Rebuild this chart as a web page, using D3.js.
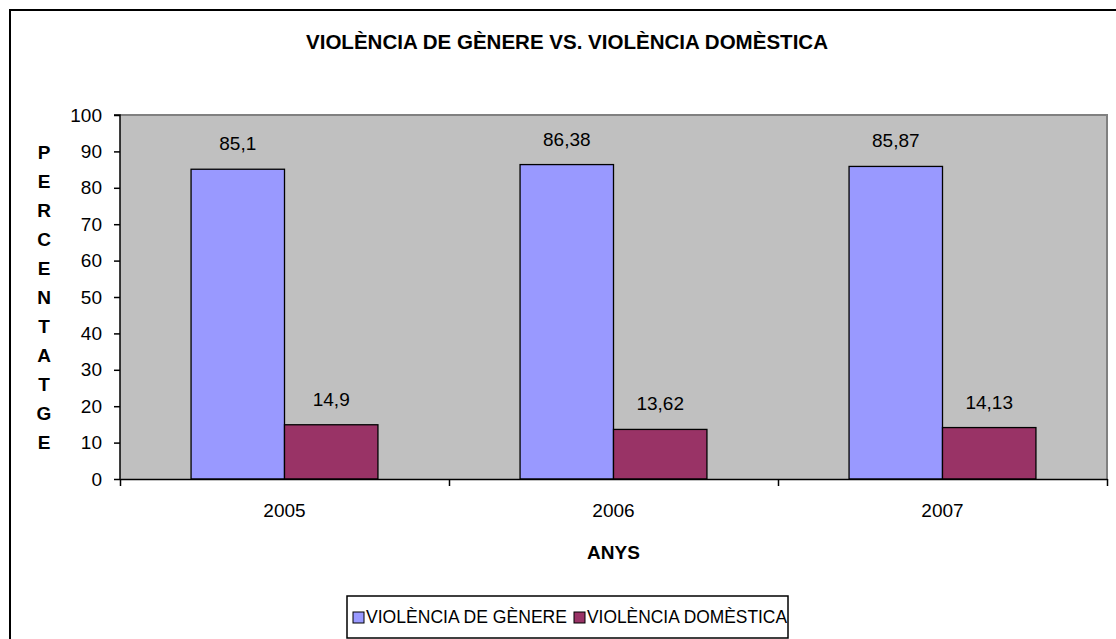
<!DOCTYPE html>
<html>
<head>
  <meta charset="utf-8">
  <title>Violència de gènere vs. violència domèstica</title>
  <style>
    body { margin: 0; background: #fff; }
    svg { display: block; font-family: "Liberation Sans", Arial, sans-serif; }
  </style>
</head>
<body>
  <svg id="chart" width="1116" height="639"></svg>

  <script src="https://cdn.jsdelivr.net/npm/d3@7/dist/d3.min.js"></script>
  <script>
    // Data
    const years = ['2005', '2006', '2007'];
    const seriesNames = ['VIOLÈNCIA DE GÈNERE', 'VIOLÈNCIA DOMÈSTICA'];
    const genere = [85.1, 86.38, 85.87];
    const domestica = [14.9, 13.62, 14.13];
    const yTicks = [0, 10, 20, 30, 40, 50, 60, 70, 80, 90, 100];
    const colors = ['#9999FF', '#993366'];

    const title = 'VIOLÈNCIA DE GÈNERE VS. VIOLÈNCIA DOMÈSTICA';
    const yLabel = 'PERCENTATGE';
    const xLabel = 'ANYS';

    const rows = years.map((y, i) => ({ year: y, values: [genere[i], domestica[i]] }));

    // Plot area
    const plot = { left: 120, right: 1107, top: 115, bottom: 479 };

    const svg = d3.select('#chart');

    // Outer chart border (runs off the right and bottom of the picture)
    svg.append('rect')
      .attr('x', 10).attr('y', 10)
      .attr('width', 1130).attr('height', 660)
      .attr('fill', '#fff')
      .attr('stroke', '#000')
      .attr('stroke-width', 2);

    // Scales
    const x0 = d3.scaleBand()
      .domain(years)
      .range([plot.left, plot.right])
      .paddingInner(0.432)
      .paddingOuter(0.216);

    const x1 = d3.scaleBand()
      .domain([0, 1])
      .range([0, x0.bandwidth()]);

    const y = d3.scaleLinear()
      .domain([0, 100])
      .range([plot.bottom, plot.top]);

    // Plot background
    svg.append('rect')
      .attr('x', plot.left).attr('y', plot.top)
      .attr('width', plot.right - plot.left)
      .attr('height', plot.bottom - plot.top)
      .attr('fill', '#C0C0C0');

    // Gray border on top and right of plot area
    svg.append('path')
      .attr('d', `M${plot.left},${plot.top}H${plot.right}V${plot.bottom}`)
      .attr('fill', 'none')
      .attr('stroke', '#808080')
      .attr('stroke-width', 2);

    // Bars
    const groups = svg.selectAll('.group')
      .data(rows)
      .enter()
      .append('g')
      .attr('class', 'group')
      .attr('transform', d => `translate(${x0(d.year)},0)`);

    groups.selectAll('rect')
      .data(d => d.values)
      .enter()
      .append('rect')
      .attr('x', (d, i) => x1(i))
      .attr('y', d => y(d))
      .attr('width', x1.bandwidth())
      .attr('height', d => y(0) - y(d))
      .attr('fill', (d, i) => colors[i])
      .attr('stroke', '#000')
      .attr('stroke-width', 1.3);

    // Value labels
    groups.selectAll('.val')
      .data(d => d.values)
      .enter()
      .append('text')
      .attr('class', 'val')
      .attr('x', (d, i) => x1(i) + x1.bandwidth() / 2)
      .attr('y', d => y(d) - 19)
      .attr('text-anchor', 'middle')
      .style('font-size', '19px')
      .style('fill', '#000')
      .text(d => String(d).replace('.', ','));

    // Y axis
    const yAxis = svg.append('g')
      .attr('transform', `translate(${plot.left},0)`)
      .call(d3.axisLeft(y).tickValues(yTicks).tickSize(6).tickPadding(12));
    yAxis.selectAll('text').style('font-size', '19px').style('fill', '#000').style('font-family', 'inherit');
    yAxis.selectAll('line, path').attr('stroke', '#000').attr('stroke-width', 1.5);
    yAxis.select('.domain').attr('d', `M-6,${plot.top}H0V${plot.bottom}`);

    // X axis: tick marks at category boundaries, labels at centres
    const xb = d3.scaleLinear().domain([0, years.length]).range([plot.left, plot.right]);
    const xTickAxis = svg.append('g')
      .attr('transform', `translate(0,${plot.bottom})`)
      .call(d3.axisBottom(xb).tickValues(d3.range(years.length + 1)).tickFormat('').tickSize(7).tickSizeOuter(0));
    xTickAxis.selectAll('line, path').attr('stroke', '#000').attr('stroke-width', 1.5);

    const xAxis = svg.append('g')
      .attr('transform', `translate(0,${plot.bottom})`)
      .call(d3.axisBottom(x0).tickSize(0).tickPadding(25));
    xAxis.select('.domain').remove();
    xAxis.selectAll('text').style('font-size', '19px').style('fill', '#000').style('font-family', 'inherit');

    // Title
    svg.append('text')
      .attr('x', 567)
      .attr('y', 49)
      .attr('text-anchor', 'middle')
      .attr('textLength', 522)
      .attr('lengthAdjust', 'spacingAndGlyphs')
      .style('font-size', '20px')
      .style('font-weight', 'bold')
      .text(title);

    // Y label as stacked letters
    svg.append('g')
      .selectAll('text')
      .data(yLabel.split(''))
      .enter()
      .append('text')
      .attr('x', 44)
      .attr('y', (d, i) => 152 + i * 29)
      .attr('dy', '0.35em')
      .attr('text-anchor', 'middle')
      .style('font-size', '19px')
      .style('font-weight', 'bold')
      .text(d => d);

    // X label
    svg.append('text')
      .attr('x', (plot.left + plot.right) / 2)
      .attr('y', 559)
      .attr('text-anchor', 'middle')
      .style('font-size', '19px')
      .style('font-weight', 'bold')
      .text(xLabel);

    // Legend
    const legend = svg.append('g');
    legend.append('rect')
      .attr('x', 347).attr('y', 596)
      .attr('width', 441).attr('height', 42)
      .attr('fill', '#fff')
      .attr('stroke', '#000')
      .attr('stroke-width', 1.5);

    const legendX = [353, 574];
    const legendTextW = [201, 200];
    seriesNames.forEach((name, i) => {
      legend.append('rect')
        .attr('x', legendX[i]).attr('y', 612)
        .attr('width', 11).attr('height', 11)
        .attr('fill', colors[i])
        .attr('stroke', '#000')
        .attr('stroke-width', 1);
      legend.append('text')
        .attr('x', legendX[i] + 13)
        .attr('y', 617)
        .attr('dy', '0.35em')
        .attr('textLength', legendTextW[i])
        .attr('lengthAdjust', 'spacingAndGlyphs')
        .style('font-size', '18px')
        .text(name);
    });
  </script>
</body>
</html>
